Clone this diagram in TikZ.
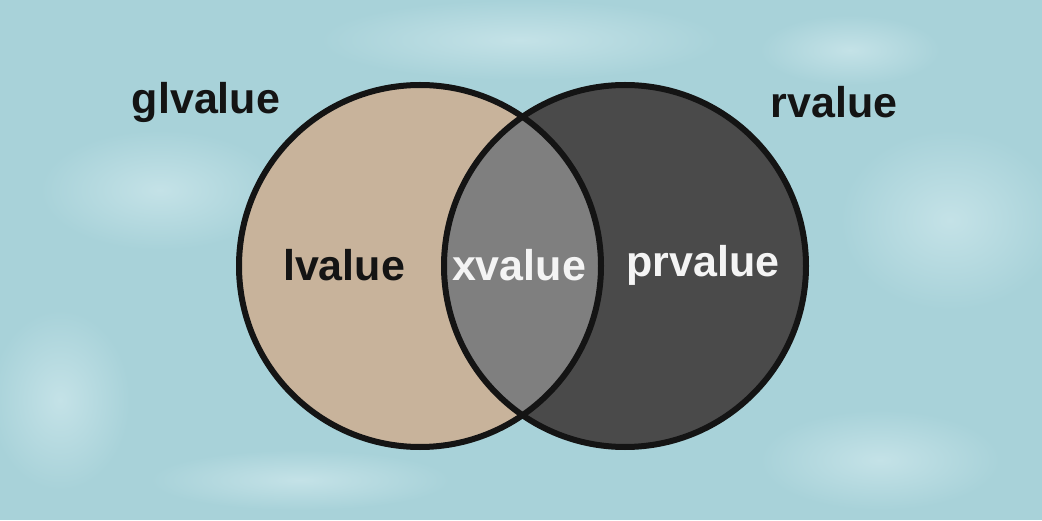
\documentclass[tikz,border=0pt]{standalone}
\usepackage{fontspec}
\setmainfont{Liberation Sans}
\definecolor{bgblue}{HTML}{A8D2D9}
\definecolor{bglight}{HTML}{C4E2E7}
\definecolor{tan}{HTML}{C8B39B}
\definecolor{darkc}{HTML}{4A4A4A}
\definecolor{midc}{HTML}{7F7F7F}
\definecolor{txtdark}{HTML}{141414}
\definecolor{txtlight}{HTML}{F4F4F4}
\tikzset{
  venn/.style={circle, minimum size=362pt, inner sep=0pt},
  ring/.style={draw=black!92, line width=6pt},
  lbl/.style={font=\bfseries\fontsize{43}{47}\selectfont, inner sep=0pt},
  blob/.style={inner color=bglight, outer color=bgblue}
}
\begin{document}
\begin{tikzpicture}[x=1pt,y=1pt]
\useasboundingbox (0,0) rectangle (1042,520);
\fill[bgblue] (0,0) rectangle (1042,520);
% soft texture patches
\shade[blob] (160,330) ellipse (120 and 60);
\shade[blob] (950,300) ellipse (110 and 90);
\shade[blob] (520,480) ellipse (200 and 40);
\shade[blob] (60,120) ellipse (70 and 90);
\shade[blob] (880,60) ellipse (120 and 50);
\shade[blob] (850,470) ellipse (90 and 35);
\shade[blob] (300,40) ellipse (150 and 30);
% circles
\node[venn] (L) at (420,254) {};
\node[venn] (R) at (625,254) {};
\fill[tan] (L.center) circle (181);
\fill[darkc] (R.center) circle (181);
\begin{scope}
  \clip (L.center) circle (181);
  \fill[midc] (R.center) circle (181);
\end{scope}
\draw[ring] (L.center) circle (181);
\draw[ring] (R.center) circle (181);
% labels
\node[lbl, text=txtdark] (gl) at (206,418) {glvalue};
\node[lbl, text=txtdark] (rv) at (834,418) {rvalue};
\node[lbl, text=txtdark] (lv) at (344,255) {lvalue};
\node[lbl, text=txtlight] (xv) at (519,255) {xvalue};
\node[lbl, text=txtlight] (pv) at (703,255) {prvalue};
\end{tikzpicture}
\end{document}
